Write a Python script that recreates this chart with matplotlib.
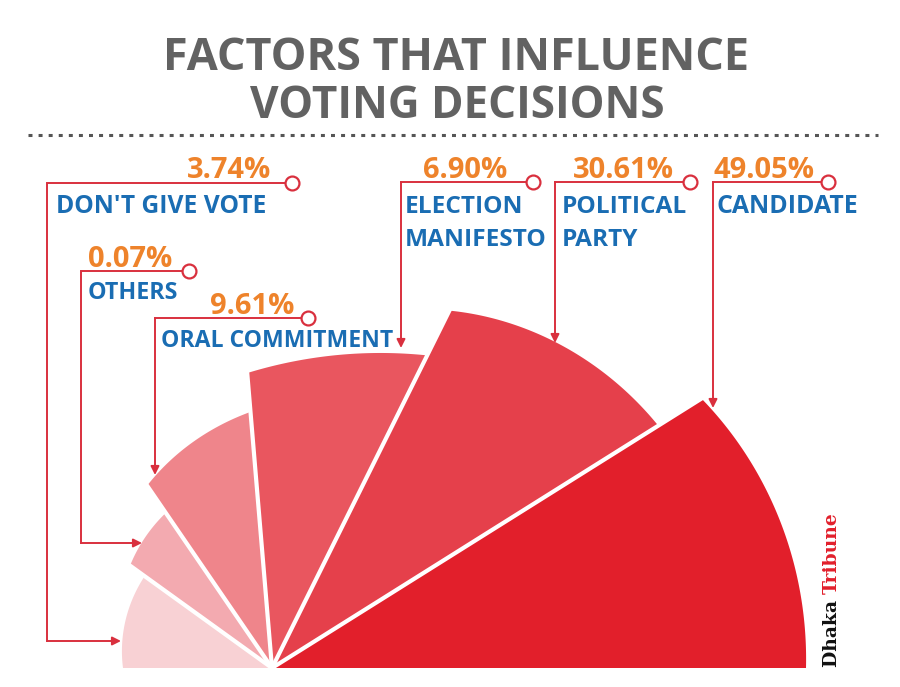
import numpy as np
import matplotlib
matplotlib.use("Agg")
import matplotlib.pyplot as plt
from matplotlib.patches import Polygon

# ---------------- data ----------------
categories = ["CANDIDATE", "POLITICAL\nPARTY", "ELECTION\nMANIFESTO",
              "ORAL COMMITMENT", "OTHERS", "DON'T GIVE VOTE"]
values = [49.05, 30.61, 6.90, 9.61, 0.07, 3.74]
title_lines = ["FACTORS THAT INFLUENCE", "VOTING DECISIONS"]

# ---------------- layout (pixels, y downwards) ----------------
apex = (272, 668)
bounds = [0, 32.1, 63.6, 94.8, 124.4, 144.2, 180]          # degrees
radii = [(534, 529, 507), (456, 434, 399), (349, 318, 296),
         (257, 239, 221), (188, 182, 175), (157, 154, 149)]  # r at lo, mid, hi angle
colors = ["#e21f2b", "#e5404b", "#e9565f", "#ef858b", "#f3aab0", "#f8d1d4"]

conn = [
    dict(x=713, y=182, cx=828, tip=(713, 408)),
    dict(x=555, y=182, cx=690, tip=(555, 343)),
    dict(x=401, y=182, cx=533, tip=(401, 348)),
    dict(x=155, y=318, cx=308, tip=(155, 475)),
    dict(x=81, y=271, cx=189, turn=543, tip=(142, 543)),
    dict(x=47, y=183, cx=292, turn=641, tip=(121, 641)),
]
pct_pos = [(713, 178), (573, 178), (423, 178), (210, 314), (88, 267), (187, 178)]
lab_pos = [(716, 213), (562, 213), (405, 213), (161, 347), (88, 299), (56, 213)]
lab_width = [145, 126, 142, 220, 86, 213]   # widest line, px

RED = "#d9303e"
ORANGE = "#ee832b"
BLUE = "#1a6db3"
GRAY = "#626262"
FONT = "Open Sans"

fig = plt.figure(figsize=(9, 6.87), dpi=100)
ax = fig.add_axes([0, 0, 1, 1])
ax.set_xlim(0, 900)
ax.set_ylim(687, 0)
ax.axis("off")
renderer = fig.canvas.get_renderer()

cx0, cy0 = apex


def rad(t, r0, rm, r1):
    return r0 * (1 - t) * (1 - 2 * t) + rm * 4 * t * (1 - t) + r1 * t * (2 * t - 1)


for i in range(len(values)):
    lo, hi = bounds[i], bounds[i + 1]
    r0, rm, r1 = radii[i]
    t = np.linspace(0, 1, 120)
    th = np.radians(lo + (hi - lo) * t)
    r = rad(t, r0, rm, r1)
    xs = cx0 + r * np.cos(th)
    ys = cy0 - r * np.sin(th)
    pts = np.vstack([[cx0, cy0], np.column_stack([xs, ys]), [cx0, cy0]])
    ax.add_patch(Polygon(pts, closed=True, facecolor=colors[i], edgecolor="none", zorder=2))

# white separators
for i in range(1, len(values)):
    th = np.radians(bounds[i])
    R = max(radii[i - 1][2], radii[i][0]) + 8
    ax.plot([cx0, cx0 + R * np.cos(th)], [cy0, cy0 - R * np.sin(th)],
            color="white", lw=3.0, solid_capstyle="butt", zorder=3)

# connectors
for c in conn:
    if "turn" in c:
        ax.plot([c["cx"], c["x"], c["x"]], [c["y"], c["y"], c["turn"]],
                color=RED, lw=1.4, zorder=4, solid_joinstyle="miter")
        start = (c["x"], c["turn"])
    else:
        ax.plot([c["cx"], c["x"]], [c["y"], c["y"]], color=RED, lw=1.4, zorder=4)
        start = (c["x"], c["y"])
    ax.annotate("", xy=c["tip"], xytext=start,
                arrowprops=dict(arrowstyle="-|>,head_length=0.5,head_width=0.25",
                                color=RED, lw=1.4, mutation_scale=10,
                                shrinkA=0, shrinkB=0), zorder=4)
    ax.plot(c["cx"], c["y"], "o", ms=10, mfc="white", mec=RED, mew=1.6, zorder=5)

# labels
for i, v in enumerate(values):
    px, py = pct_pos[i]
    ax.text(px, py, f"{v:.2f}%", color=ORANGE, fontsize=21, fontweight="bold",
            family=FONT, ha="left", va="baseline", zorder=6)
    lx, ly = lab_pos[i]
    lines = categories[i].split("\n")
    objs = [ax.text(lx, ly + 33 * k, line, color=BLUE, fontsize=17, fontweight="bold",
                    family=FONT, ha="left", va="baseline", zorder=6)
            for k, line in enumerate(lines)]
    wmax = max(o.get_window_extent(renderer).width for o in objs)
    fs = 17 * lab_width[i] / wmax
    fs = 0.5 * fs + 0.5 * 17.5
    for o in objs:
        o.set_fontsize(fs)

# title
targets = [(456, 70, 588), (457, 118, 415)]
for line, (tx, ty, tw) in zip(title_lines, targets):
    t = ax.text(tx, ty, line, color=GRAY, fontsize=32, fontweight="bold",
                family=FONT, ha="center", va="baseline")
    bb = t.get_window_extent(renderer)
    t.set_fontsize(32 * tw / bb.width)

# dotted rule
ax.plot([28, 878], [135, 135], color="#555555", lw=2.2, linestyle=(0, (1.3, 2.0)),
        solid_capstyle="butt", dash_capstyle="butt")

# logo
d = ax.text(837, 667, "Dhaka ", rotation=90, rotation_mode="anchor", ha="left",
            va="baseline", color="#111111", fontsize=13.5, fontweight="bold",
            family="DejaVu Serif", zorder=6)
dbb = d.get_window_extent(renderer)
ytop = ax.transData.inverted().transform((dbb.x0, dbb.y1))[1]
ax.text(837, ytop, "Tribune", rotation=90, rotation_mode="anchor", ha="left",
        va="baseline", color="#e21f2b", fontsize=13.5, fontweight="bold",
        family="DejaVu Serif", zorder=6)

fig.savefig("out.png", dpi=100, facecolor="white")
